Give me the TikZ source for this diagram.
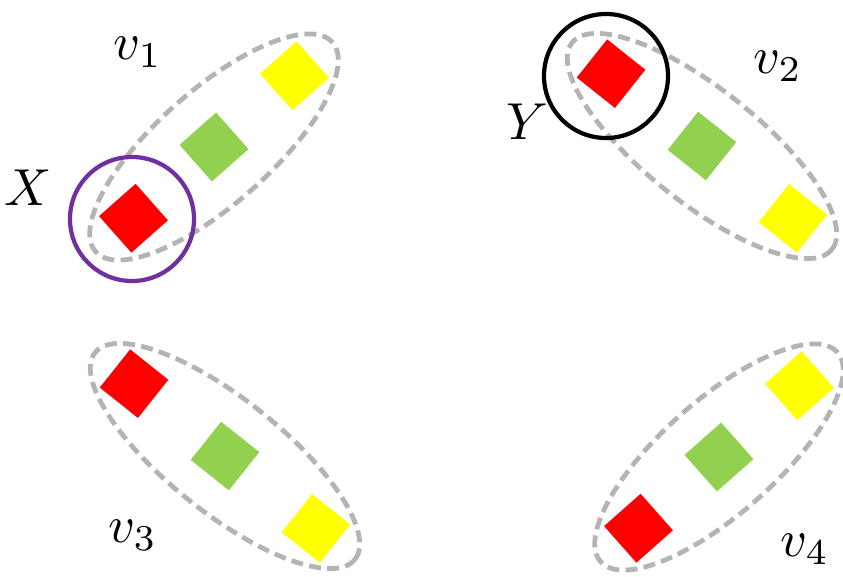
\documentclass[tikz,border=0pt]{standalone}
\usepackage{tikz}
\usetikzlibrary{shapes, positioning, calc}

\definecolor{sqred}{RGB}{255,0,0}
\definecolor{sqgreen}{RGB}{146,208,80}
\definecolor{sqyellow}{RGB}{255,255,0}
\definecolor{setgray}{RGB}{180,180,180}
\definecolor{ringpurple}{RGB}{112,48,160}

\begin{document}
\begin{tikzpicture}[
    x=0.025cm, y=-0.025cm,
    set/.style={ellipse, draw=setgray, line width=3.4pt, dash pattern=on 8.5pt off 4.5pt,
        inner sep=0pt, minimum height=2.85cm},
    sq/.style={rectangle, inner sep=0pt, minimum size=1.22cm},
    ring/.style={circle, draw, line width=3pt, inner sep=0pt, minimum size=3.1cm},
    lbl/.style={scale=3.7, inner sep=0pt}
]
\useasboundingbox (0,0) rectangle (843,577);

% 1. GROUP v_1
\node[set, minimum width=7.9cm, rotate=41.5] (E1) at (214,147) {};
\node[sq, fill=sqred, rotate=41.5] (s1a) at ($(E1.center)!0.67!(E1.west)$) {};
\node[sq, fill=sqgreen, rotate=41.5] (s1b) at (E1.center) {};
\node[sq, fill=sqyellow, rotate=41.5] (s1c) at ($(E1.center)!0.67!(E1.east)$) {};
\node[lbl] (v1) at (138,52) {$v_1$};

% 2. GROUP v_2
\node[set, minimum width=8.3cm, rotate=-38.5] (E2) at (702,146) {};
\node[sq, fill=sqred, rotate=-38.5] (s2a) at ($(E2.center)!0.69!(E2.west)$) {};
\node[sq, fill=sqgreen, rotate=-38.5] (s2b) at (E2.center) {};
\node[sq, fill=sqyellow, rotate=-38.5] (s2c) at ($(E2.center)!0.69!(E2.east)$) {};
\node[lbl] (v2) at (778,66) {$v_2$};

% 3. GROUP v_3
\node[set, minimum width=8.3cm, rotate=-38.5] (E3) at (225,456) {};
\node[sq, fill=sqred, rotate=-38.5] (s3a) at ($(E3.center)!0.69!(E3.west)$) {};
\node[sq, fill=sqgreen, rotate=-38.5] (s3b) at (E3.center) {};
\node[sq, fill=sqyellow, rotate=-38.5] (s3c) at ($(E3.center)!0.69!(E3.east)$) {};
\node[lbl] (v3) at (133,535) {$v_3$};

% 4. GROUP v_4
\node[set, minimum width=7.9cm, rotate=41.5] (E4) at (719,457) {};
\node[sq, fill=sqred, rotate=41.5] (s4a) at ($(E4.center)!0.67!(E4.west)$) {};
\node[sq, fill=sqgreen, rotate=41.5] (s4b) at (E4.center) {};
\node[sq, fill=sqyellow, rotate=41.5] (s4c) at ($(E4.center)!0.67!(E4.east)$) {};
\node[lbl] (v4) at (805,549) {$v_4$};

% the two picked items
\node[ring, draw=ringpurple] (cX) at (132,219) {};
\node[lbl] (X) at (28,188) {$X$};
\node[ring, draw=black] (cY) at (606,76) {};
\node[lbl] (Y) at (527,122) {$Y$};
\end{tikzpicture}
\end{document}
